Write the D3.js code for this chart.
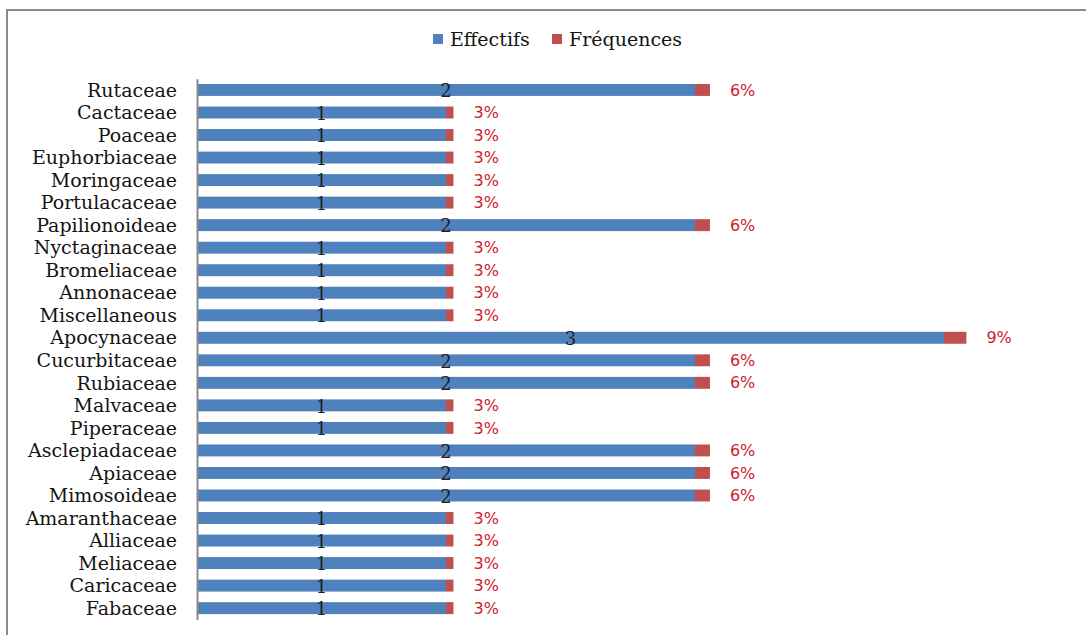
<!DOCTYPE html>
<html><head><meta charset="utf-8">
<script src="https://cdn.jsdelivr.net/npm/d3@7"></script>
<style>body{margin:0;background:#fff}svg{display:block}</style>
</head><body>
<svg id="chart" width="1086" height="635"></svg>
<script>
const categories = ["Rutaceae","Cactaceae","Poaceae","Euphorbiaceae","Moringaceae","Portulacaceae","Papilionoideae","Nyctaginaceae","Bromeliaceae","Annonaceae","Miscellaneous","Apocynaceae","Cucurbitaceae","Rubiaceae","Malvaceae","Piperaceae","Asclepiadaceae","Apiaceae","Mimosoideae","Amaranthaceae","Alliaceae","Meliaceae","Caricaceae","Fabaceae"];
const effectifs = [2,1,1,1,1,1,2,1,1,1,1,3,2,2,1,1,2,2,2,1,1,1,1,1];
const frequences = [0.06,0.03,0.03,0.03,0.03,0.03,0.06,0.03,0.03,0.03,0.03,0.09,0.06,0.06,0.03,0.03,0.06,0.06,0.06,0.03,0.03,0.03,0.03,0.03];
const seriesNames = ["Effectifs","Fréquences"];
const colors = ["#4f81bd","#c0504d"];

const svg = d3.select("#chart");
const serif = "'DejaVu Serif', serif";
const sans = "'DejaVu Sans', sans-serif";

// frame
svg.append("line").attr("x1",7).attr("x2",1086).attr("y1",10).attr("y2",10).attr("stroke","#8a8a8a").attr("stroke-width",2);
svg.append("line").attr("x1",7).attr("x2",7).attr("y1",9).attr("y2",635).attr("stroke","#8a8a8a").attr("stroke-width",2);

const x = d3.scaleLinear().domain([0,3.5]).range([197,197+3.5*249]);
const y = d3.scaleBand().domain(categories).range([78.7,619.4]).paddingInner(0.47).paddingOuter(0.235);

const data = categories.map((c,i)=>({cat:c, Effectifs:effectifs[i], "Fréquences":frequences[i]}));
const stack = d3.stack().keys(seriesNames)(data);

const g = svg.append("g");
stack.forEach((s,si)=>{
  g.selectAll(null).data(s).enter().append("rect")
    .attr("x",d=>x(d[0])).attr("width",d=>x(d[1])-x(d[0]))
    .attr("y",d=>y(d.data.cat)).attr("height",y.bandwidth())
    .attr("fill",colors[si]);
});

// axis line
const yAxis = d3.axisLeft(y).tickSize(0).tickPadding(20);
const ax = svg.append("g").attr("transform","translate(197,0)").call(yAxis);
ax.select(".domain").attr("stroke","#8a8a8a").attr("stroke-width",2);
ax.selectAll(".tick text").attr("font-family",serif).attr("font-size",19).attr("fill","#141414").attr("dy","0.35em");

// value labels (effectifs)
g.selectAll(null).data(stack[0]).enter().append("text")
  .attr("x",d=>(x(d[0])+x(d[1]))/2).attr("y",d=>y(d.data.cat)+y.bandwidth()/2)
  .attr("dy","0.4em").attr("text-anchor","middle")
  .attr("font-family",serif).attr("font-size",18).attr("fill","#1f1f1f")
  .text(d=>d.data.Effectifs);

// percent labels
g.selectAll(null).data(stack[1]).enter().append("text")
  .attr("x",d=>x(d[1])+20).attr("y",d=>y(d.data.cat)+y.bandwidth()/2)
  .attr("dy","0.35em").attr("text-anchor","start")
  .attr("font-family",sans).attr("font-size",16).attr("fill","#d0202a")
  .text(d=>Math.round(d.data["Fréquences"]*100)+"%");

// legend
const legendItems = [{name:seriesNames[0],x:433},{name:seriesNames[1],x:552}];
const lg = svg.append("g");
legendItems.forEach((it,i)=>{
  lg.append("rect").attr("x",it.x).attr("y",34).attr("width",10).attr("height",10).attr("fill",colors[i]);
  lg.append("text").attr("x",it.x+17).attr("y",39).attr("dy","0.35em")
    .attr("font-family",serif).attr("font-size",19).attr("fill","#141414").text(it.name);
});
</script>
</body></html>
